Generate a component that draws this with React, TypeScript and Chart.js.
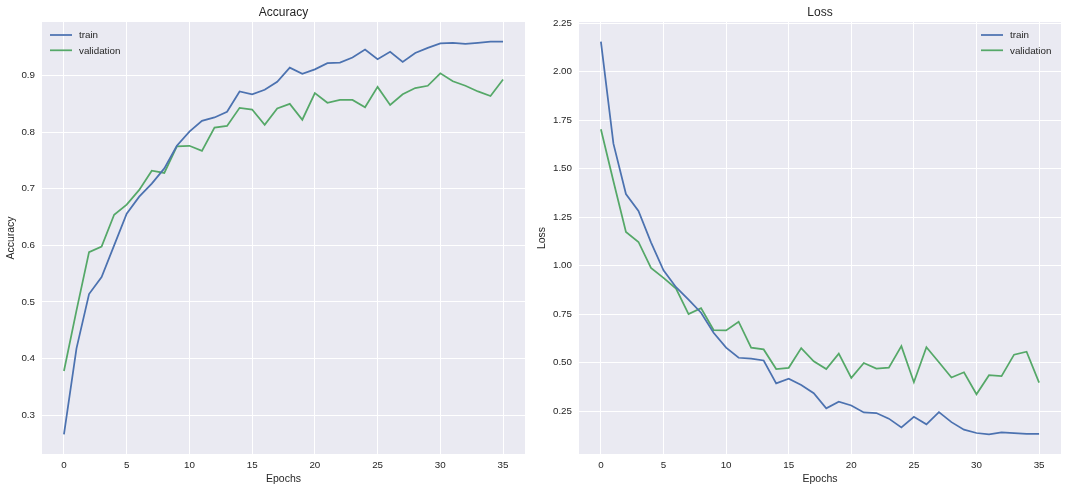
import React, { useEffect, useRef } from "react";
import { Chart, registerables } from "chart.js";

Chart.register(...registerables);

const epochs = [0, 1, 2, 3, 4, 5, 6, 7, 8, 9, 10, 11, 12, 13, 14, 15, 16, 17, 18, 19, 20, 21, 22, 23, 24, 25, 26, 27, 28, 29, 30, 31, 32, 33, 34, 35];

const trainAcc = [0.266, 0.418, 0.514, 0.544, 0.600, 0.656, 0.686, 0.709, 0.736, 0.776, 0.801, 0.820, 0.826, 0.836, 0.872, 0.867, 0.875, 0.889, 0.914, 0.903, 0.911, 0.922, 0.923, 0.932, 0.946, 0.929, 0.942, 0.924, 0.940, 0.949, 0.957, 0.958, 0.956, 0.958, 0.960, 0.960];
const valAcc = [0.378, 0.485, 0.588, 0.598, 0.654, 0.672, 0.698, 0.732, 0.728, 0.775, 0.776, 0.767, 0.808, 0.811, 0.843, 0.840, 0.813, 0.842, 0.850, 0.822, 0.869, 0.852, 0.857, 0.857, 0.844, 0.880, 0.848, 0.867, 0.878, 0.882, 0.904, 0.890, 0.882, 0.872, 0.864, 0.893];

const trainLoss = [2.155, 1.629, 1.369, 1.282, 1.120, 0.976, 0.889, 0.825, 0.757, 0.654, 0.577, 0.525, 0.520, 0.511, 0.393, 0.417, 0.385, 0.342, 0.264, 0.298, 0.279, 0.243, 0.240, 0.211, 0.166, 0.221, 0.182, 0.245, 0.193, 0.154, 0.137, 0.130, 0.140, 0.137, 0.132, 0.132];
const valLoss = [1.703, 1.435, 1.174, 1.122, 0.988, 0.937, 0.882, 0.750, 0.781, 0.668, 0.666, 0.711, 0.577, 0.568, 0.467, 0.473, 0.575, 0.507, 0.467, 0.546, 0.421, 0.498, 0.469, 0.474, 0.585, 0.399, 0.579, 0.502, 0.423, 0.450, 0.337, 0.435, 0.430, 0.541, 0.556, 0.397];

const xTicks = [0, 5, 10, 15, 20, 25, 30, 35];
const accTicks = [0.3, 0.4, 0.5, 0.6, 0.7, 0.8, 0.9];
const lossTicks = [0.25, 0.5, 0.75, 1.0, 1.25, 1.5, 1.75, 2.0, 2.25];

const seriesNames = ["train", "validation"];
const seriesColors = ["#4C72B0", "#55A868"];

const FONT = "'Liberation Sans', Arial, sans-serif";
const TEXT = "#262626";
const BG = "#EAEAF2";

const bgPlugin = {
  id: "axesBg",
  beforeDraw(chart: any) {
    const { ctx, chartArea } = chart;
    ctx.save();
    ctx.fillStyle = BG;
    ctx.fillRect(chartArea.left, chartArea.top, chartArea.right - chartArea.left, chartArea.bottom - chartArea.top);
    ctx.restore();
  },
};

const innerLegend = {
  id: "innerLegend",
  afterDatasetsDraw(chart: any, _args: any, opts: any) {
    const { ctx, chartArea } = chart;
    ctx.save();
    ctx.font = `9.8px ${FONT}`;
    ctx.textBaseline = "middle";
    ctx.textAlign = "left";
    chart.data.datasets.forEach((ds: any, i: number) => {
      const y = chartArea.top + 13 + i * 15.3;
      const x0 = opts.corner === "left" ? chartArea.left + 8 : chartArea.right - 80;
      ctx.strokeStyle = ds.borderColor;
      ctx.lineWidth = 1.75;
      ctx.beginPath();
      ctx.moveTo(x0, y);
      ctx.lineTo(x0 + 22, y);
      ctx.stroke();
      ctx.fillStyle = TEXT;
      ctx.fillText(ds.label, x0 + 29, y + 0.5);
    });
    ctx.restore();
  },
};

function margins(a: number[], b: number[]) {
  const all = a.concat(b);
  const lo = Math.min(...all);
  const hi = Math.max(...all);
  const pad = (hi - lo) * 0.05;
  return [lo - pad, hi + pad];
}

function makeConfig(opts: {
  title: string;
  yLabel: string;
  train: number[];
  val: number[];
  yTicks: number[];
  decimals: number;
  yWidth: number;
  padRight: number;
  yTitlePad: number;
  corner: string;
}) {
  const [ymin, ymax] = margins(opts.train, opts.val);
  const xPad = (epochs[epochs.length - 1] - epochs[0]) * 0.05;
  return {
    type: "line",
    data: {
      datasets: [opts.train, opts.val].map((arr, i) => ({
        label: seriesNames[i],
        data: epochs.map((e, k) => ({ x: e, y: arr[k] })),
        borderColor: seriesColors[i],
        backgroundColor: seriesColors[i],
        borderWidth: 1.75,
        pointRadius: 0,
        tension: 0,
        fill: false,
      })),
    },
    options: {
      responsive: false,
      animation: false,
      devicePixelRatio: 1,
      layout: { padding: { left: 0, right: opts.padRight, top: 0, bottom: 0 } },
      plugins: {
        legend: { display: false },
        tooltip: { enabled: false },
        title: {
          display: true,
          text: opts.title,
          fullSize: false,
          color: TEXT,
          font: { family: FONT, size: 12, weight: "normal", lineHeight: 1.2 },
          padding: { top: 5.8, bottom: 1.8 },
        },
        innerLegend: { corner: opts.corner },
      },
      scales: {
        x: {
          type: "linear",
          min: epochs[0] - xPad,
          max: epochs[epochs.length - 1] + xPad,
          afterBuildTicks: (scale: any) => {
            scale.ticks = xTicks.map((v) => ({ value: v }));
          },
          afterFit: (scale: any) => {
            scale.height = 38;
          },
          grid: { color: "#ffffff", lineWidth: 1, drawTicks: false },
          border: { display: false },
          ticks: {
            color: TEXT,
            font: { family: FONT, size: 9.8 },
            padding: 5,
            maxRotation: 0,
            autoSkip: false,
            includeBounds: false,
            callback: (v: any) => String(v),
          },
          title: {
            display: true,
            text: "Epochs",
            color: TEXT,
            font: { family: FONT, size: 10.5, lineHeight: 1.2 },
            padding: { top: 0, bottom: 6.2 },
          },
        },
        y: {
          type: "linear",
          min: ymin,
          max: ymax,
          afterBuildTicks: (scale: any) => {
            scale.ticks = opts.yTicks.map((v) => ({ value: v }));
          },
          afterFit: (scale: any) => {
            scale.width = opts.yWidth;
          },
          grid: { color: "#ffffff", lineWidth: 1, drawTicks: false },
          border: { display: false },
          ticks: {
            color: TEXT,
            font: { family: FONT, size: 9.8 },
            padding: 7,
            autoSkip: false,
            includeBounds: false,
            callback: (v: any) => Number(v).toFixed(opts.decimals),
          },
          title: {
            display: true,
            text: opts.yLabel,
            color: TEXT,
            font: { family: FONT, size: 10.5, lineHeight: 1.2 },
            padding: { top: opts.yTitlePad, bottom: 0 },
          },
        },
      },
    },
    plugins: [bgPlugin, innerLegend],
  };
}

function ChartPanel({ config, left, width }: { config: any; left: number; width: number }) {
  const ref = useRef<HTMLCanvasElement | null>(null);
  useEffect(() => {
    if (!ref.current) return;
    const chart = new Chart(ref.current, config);
    return () => chart.destroy();
  }, [config]);
  return (
    <div style={{ position: "absolute", left, top: 0, width, height: 492 }}>
      <canvas ref={ref} width={width} height={492} style={{ display: "block", width, height: 492 }} />
    </div>
  );
}

const accConfig = makeConfig({
  title: "Accuracy",
  yLabel: "Accuracy",
  train: trainAcc,
  val: valAcc,
  yTicks: accTicks,
  decimals: 1,
  yWidth: 42,
  padRight: 9,
  yTitlePad: 4.7,
  corner: "left",
});

const lossConfig = makeConfig({
  title: "Loss",
  yLabel: "Loss",
  train: trainLoss,
  val: valLoss,
  yTicks: lossTicks,
  decimals: 2,
  yWidth: 45,
  padRight: 7,
  yTitlePad: 1.7,
  corner: "right",
});

export default function App() {
  return (
    <div style={{ position: "absolute", left: 0, top: 0, width: 1068, height: 492, background: "#ffffff", overflow: "hidden" }}>
      <ChartPanel config={accConfig} left={0} width={534} />
      <ChartPanel config={lossConfig} left={534} width={534} />
    </div>
  );
}
